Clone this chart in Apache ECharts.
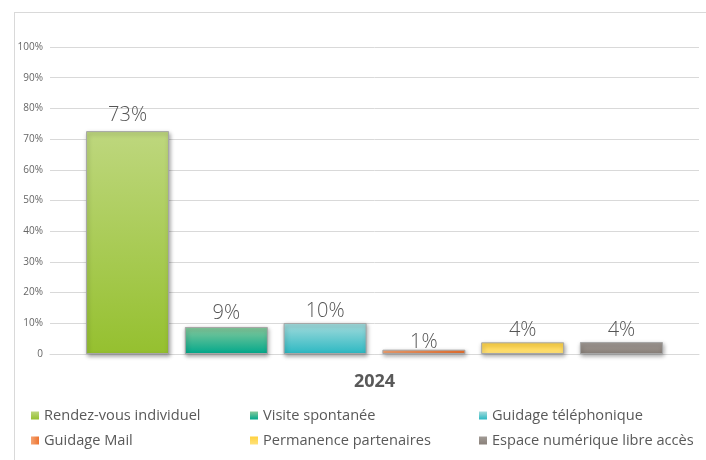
<!DOCTYPE html>
<html lang="fr">
<head>
    <meta charset="UTF-8">
    <title>2024</title>
    <style>
        html, body { margin: 0; padding: 0; background: #fff; }
        #chart { width: 706px; height: 460px; }
    </style>
</head>
<body>
<div id="chart"></div>
<script src="https://cdn.jsdelivr.net/npm/echarts@6/dist/echarts.min.js"></script>
<script>
    // data
    const categories = ['2024'];
    const seriesNames = [
        'Rendez-vous individuel',
        'Visite spontanée',
        'Guidage téléphonique',
        'Guidage Mail',
        'Permanence partenaires',
        'Espace numérique libre accès'
    ];
    const seriesValues = [72.6, 8.8, 10.1, 1.4, 3.8, 3.9];
    const yTicks = [0, 10, 20, 30, 40, 50, 60, 70, 80, 90, 100];

    // bar colours (top, bottom), label offsets and legend slots
    const colours = [
        ['#bed77e', '#95c02f'],
        ['#88c99c', '#00a88b'],
        ['#a5dbdc', '#2bb8c2'],
        ['#f4a372', '#ee7431'],
        ['#ffd13f', '#ffe27a'],
        ['#a29b96', '#898079']
    ];
    const labelGaps = [6, 4, 2, -3, 2, 2];
    const legendCols = [31, 250, 479];
    const legendRows = [408, 433];

    const font = '"Open Sans", "DejaVu Sans", sans-serif';
    const textGrey = '#595959';

    function grad(c, i) {
        if (i === 3) {
            return new echarts.graphic.LinearGradient(0, 0, 1, 0, [
                {offset: 0, color: c[0]}, {offset: 1, color: c[1]}
            ]);
        }
        return new echarts.graphic.LinearGradient(0, 0, 0, 1, [
            {offset: 0, color: c[0]}, {offset: 1, color: c[1]}
        ]);
    }

    const series = seriesNames.map(function (name, i) {
        return {
            name: name,
            type: 'bar',
            data: [seriesValues[i]],
            barWidth: 83,
            barGap: '19%',
            itemStyle: {
                color: grad(colours[i], i),
                borderColor: '#a6a6a6',
                borderWidth: 1,
                shadowColor: 'rgba(0,0,0,0.35)',
                shadowBlur: 4,
                shadowOffsetX: 1,
                shadowOffsetY: 2
            },
            label: {
                show: true,
                position: 'top',
                distance: labelGaps[i],
                fontFamily: font,
                fontSize: 20,
                fontWeight: 300,
                color: '#555',
                formatter: function (p) { return Math.round(p.value) + '%'; }
            }
        };
    });

    const legends = seriesNames.map(function (name, i) {
        return {
            data: [name],
            left: legendCols[i % 3],
            top: legendRows[Math.floor(i / 3)],
            padding: 0,
            icon: 'rect',
            itemWidth: 8,
            itemHeight: 8,
            itemStyle: {borderWidth: 0, shadowBlur: 0},
            selectedMode: false,
            textStyle: {fontFamily: font, fontSize: 14.6, color: textGrey}
        };
    });

    const myChart = echarts.init(document.getElementById('chart'));
    myChart.setOption({
        animation: false,
        backgroundColor: '#fff',
        grid: {left: 50, right: 7, top: 47, bottom: 106},
        legend: legends,
        graphic: [
            {type: 'line', shape: {x1: 14, y1: 12.5, x2: 706, y2: 12.5}, style: {stroke: '#d9d9d9', lineWidth: 1}},
            {type: 'line', shape: {x1: 14.5, y1: 12, x2: 14.5, y2: 460}, style: {stroke: '#d9d9d9', lineWidth: 1}}
        ],
        xAxis: {
            type: 'category',
            data: categories,
            axisLine: {lineStyle: {color: '#d9d9d9'}},
            axisTick: {show: false},
            axisLabel: {
                margin: 19,
                fontFamily: font,
                fontSize: 18,
                fontWeight: 'bold',
                color: textGrey
            }
        },
        yAxis: {
            type: 'value',
            min: yTicks[0],
            max: yTicks[yTicks.length - 1],
            interval: 10,
            axisLine: {show: false},
            axisTick: {show: false},
            splitLine: {lineStyle: {color: '#d9d9d9', width: 1}},
            axisLabel: {
                margin: 7,
                fontFamily: font,
                fontSize: 10,
                color: '#666',
                formatter: function (v) { return v === 0 ? '0' : v + '%'; }
            }
        },
        series: series
    });
</script>
</body>
</html>
